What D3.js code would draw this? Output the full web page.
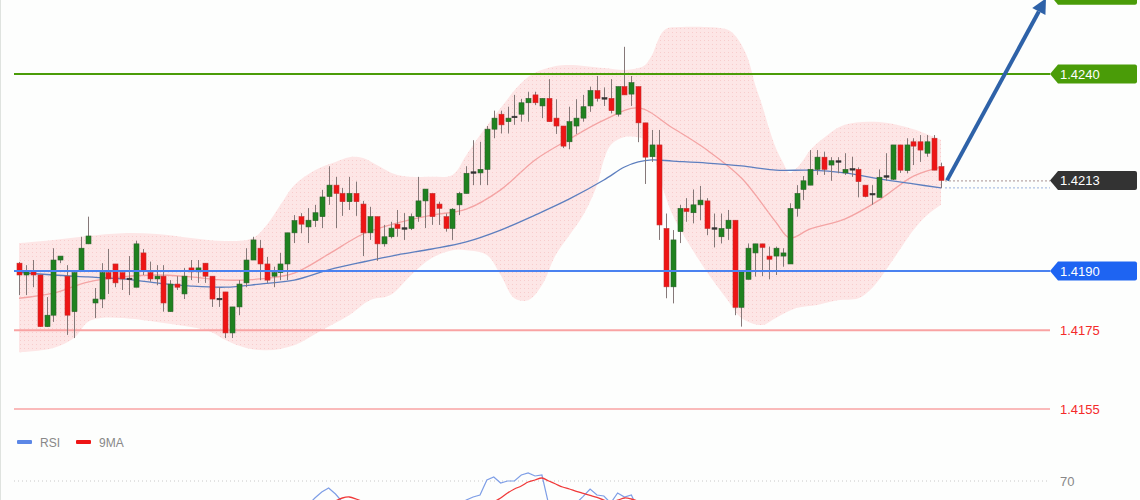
<!DOCTYPE html>
<html><head><meta charset="utf-8">
<script src="https://cdn.jsdelivr.net/npm/d3@7"></script>
<style>html,body{margin:0;padding:0;background:#fdfefd;overflow:hidden}svg{display:block}</style>
</head><body><svg id="c" width="1140" height="500"></svg>
<script>
// ---- candle data (OHLC) ----
const candleOpen = [1.41920,1.41890,1.41898,1.41890,1.41759,1.41788,1.41928,1.41887,1.41797,1.41900,1.41969,1.41819,1.41829,1.41896,1.41918,1.41896,1.41880,1.41859,1.41946,1.41896,1.41880,1.41887,1.41797,1.41867,1.41842,1.41908,1.41898,1.41920,1.41887,1.41829,1.41847,1.41743,1.41809,1.41870,1.41928,1.41958,1.41918,1.41887,1.41896,1.41918,1.41997,1.42038,1.42012,1.42028,1.42038,1.42089,1.42118,1.42097,1.42076,1.42097,1.42070,1.41997,1.42038,1.41969,1.41987,1.42019,1.42008,1.42008,1.42038,1.42078,1.42097,1.42070,1.42038,1.42008,1.42068,1.42097,1.42150,1.42149,1.42158,1.42260,1.42298,1.42279,1.42291,1.42298,1.42327,1.42347,1.42319,1.42338,1.42288,1.42268,1.42228,1.42268,1.42288,1.42319,1.42358,1.42338,1.42338,1.42298,1.42368,1.42349,1.42368,1.42276,1.42190,1.42220,1.42008,1.41860,1.42000,1.42059,1.42048,1.42068,1.42078,1.42008,1.41987,1.42008,1.42029,1.41808,1.41879,1.41946,1.41969,1.41938,1.41938,1.41938,1.41918,1.42059,1.42107,1.42118,1.42158,1.42189,1.42169,1.42178,1.42149,1.42158,1.42158,1.42118,1.42095,1.42087,1.42140,1.42133,1.42220,1.42155,1.42228,1.42228,1.42199,1.42237,1.42165];
const candleHigh = [1.41923,1.41915,1.41928,1.41891,1.41834,1.41958,1.41938,1.41915,1.41897,1.41987,1.42038,1.41857,1.41920,1.41956,1.41918,1.41896,1.41938,1.41977,1.41956,1.41924,1.41915,1.41915,1.41877,1.41887,1.41908,1.41928,1.41928,1.41920,1.41887,1.41859,1.41847,1.41809,1.41877,1.41958,1.41987,1.41979,1.41936,1.41911,1.41946,1.41997,1.42042,1.42047,1.42060,1.42068,1.42106,1.42166,1.42139,1.42111,1.42139,1.42127,1.42078,1.42063,1.42038,1.42017,1.42025,1.42055,1.42047,1.42046,1.42139,1.42108,1.42097,1.42076,1.42046,1.42060,1.42101,1.42166,1.42232,1.42228,1.42268,1.42307,1.42307,1.42317,1.42347,1.42337,1.42355,1.42355,1.42338,1.42387,1.42336,1.42268,1.42317,1.42336,1.42347,1.42368,1.42395,1.42366,1.42387,1.42368,1.42469,1.42395,1.42368,1.42276,1.42258,1.42258,1.42046,1.42004,1.42068,1.42085,1.42107,1.42116,1.42085,1.42046,1.42046,1.42055,1.42029,1.41898,1.41970,1.41969,1.41969,1.41962,1.41962,1.41958,1.42072,1.42118,1.42141,1.42207,1.42207,1.42203,1.42189,1.42189,1.42199,1.42190,1.42163,1.42118,1.42118,1.42158,1.42199,1.42220,1.42220,1.42237,1.42237,1.42245,1.42245,1.42245,1.42175];
const candleLow = [1.41839,1.41839,1.41859,1.41758,1.41758,1.41771,1.41920,1.41738,1.41730,1.41900,1.41969,1.41781,1.41806,1.41842,1.41859,1.41852,1.41839,1.41859,1.41890,1.41873,1.41864,1.41797,1.41797,1.41852,1.41829,1.41877,1.41870,1.41870,1.41809,1.41809,1.41730,1.41730,1.41788,1.41859,1.41928,1.41877,1.41870,1.41859,1.41877,1.41877,1.41971,1.41996,1.41971,1.42012,1.42009,1.42068,1.42009,1.42040,1.42055,1.42040,1.41938,1.41979,1.41926,1.41962,1.41983,1.41987,1.41979,1.42004,1.42025,1.42009,1.42017,1.42017,1.42000,1.41979,1.42042,1.42097,1.42118,1.42118,1.42118,1.42237,1.42249,1.42249,1.42271,1.42279,1.42279,1.42321,1.42288,1.42279,1.42248,1.42212,1.42209,1.42248,1.42279,1.42304,1.42330,1.42319,1.42300,1.42292,1.42347,1.42319,1.42227,1.42121,1.42177,1.41979,1.41831,1.41818,1.41971,1.42025,1.42021,1.42029,1.41991,1.41960,1.41970,1.41979,1.41788,1.41759,1.41879,1.41886,1.41887,1.41879,1.41890,1.41911,1.41918,1.42038,1.42080,1.42118,1.42144,1.42144,1.42129,1.42148,1.42144,1.42139,1.42087,1.42087,1.42068,1.42087,1.42129,1.42131,1.42149,1.42148,1.42169,1.42177,1.42190,1.42156,1.42110];
const candleClose = [1.41890,1.41898,1.41890,1.41759,1.41788,1.41928,1.41938,1.41788,1.41896,1.41958,1.41989,1.41829,1.41896,1.41880,1.41870,1.41880,1.41880,1.41969,1.41900,1.41880,1.41887,1.41819,1.41867,1.41859,1.41887,1.41898,1.41908,1.41887,1.41829,1.41829,1.41743,1.41809,1.41867,1.41928,1.41979,1.41918,1.41877,1.41896,1.41918,1.41997,1.42028,1.42019,1.42029,1.42048,1.42088,1.42118,1.42097,1.42076,1.42097,1.42076,1.41997,1.42038,1.41969,1.41987,1.42009,1.42008,1.42008,1.42038,1.42078,1.42108,1.42038,1.42059,1.42008,1.42057,1.42097,1.42148,1.42150,1.42158,1.42260,1.42288,1.42271,1.42288,1.42291,1.42327,1.42338,1.42327,1.42338,1.42279,1.42268,1.42217,1.42279,1.42288,1.42317,1.42358,1.42338,1.42338,1.42307,1.42368,1.42347,1.42378,1.42276,1.42189,1.42220,1.42017,1.41860,1.41979,1.42059,1.42051,1.42068,1.42080,1.42008,1.42008,1.42008,1.42029,1.41808,1.41898,1.41958,1.41969,1.41960,1.41930,1.41958,1.41946,1.42059,1.42097,1.42129,1.42158,1.42189,1.42158,1.42180,1.42178,1.42158,1.42158,1.42127,1.42089,1.42095,1.42138,1.42140,1.42220,1.42156,1.42220,1.42217,1.42207,1.42228,1.42156,1.42130];

// ---- Bollinger bands & moving average (by candle index) ----
const midIdx = [0,5,10,15,20,25,30,35,40,45,50,55,60,65,70,75,80,85,90,95,100,105,110,112,115,120,125,130,134];
const midVal = [1.41831,1.41844,1.41872,1.41885,1.41890,1.41885,1.41877,1.41880,1.41895,1.41943,1.41994,1.42022,1.42042,1.42057,1.42106,1.42182,1.42235,1.42283,1.42314,1.42263,1.42207,1.42136,1.42024,1.41984,1.42007,1.42032,1.42080,1.42141,1.42164];
const upperIdx = [0,5,10,15,20,25,30,34,36,38,40,43,46,48,50,52,55,60,63,65,67,70,73,75,78,80,85,88,90,91,92,93,94,96,100,103,104,105,106,107,108,109,110,111,112,113,114,115,117,120,125,130,134];
const upperVal = [1.41971,1.41979,1.41989,1.41996,1.41994,1.41984,1.41976,1.41984,1.42017,1.42068,1.42118,1.42156,1.42177,1.42189,1.42187,1.42169,1.42144,1.42139,1.42144,1.42194,1.42245,1.42314,1.42377,1.42403,1.42420,1.42423,1.42415,1.42410,1.42415,1.42423,1.42448,1.42491,1.42514,1.42519,1.42519,1.42512,1.42499,1.42474,1.42436,1.42372,1.42321,1.42263,1.42212,1.42177,1.42149,1.42161,1.42182,1.42207,1.42238,1.42271,1.42278,1.42260,1.42233];
const lowerIdx = [0,5,8,10,12,15,20,25,28,30,33,36,40,44,48,51,54,57,60,63,65,68,70,72,74,76,78,80,82,84,85,86,88,91,92,93,95,97,100,103,105,108,110,113,116,119,122,124,127,130,132,134];
const lowerVal = [1.41694,1.41705,1.41730,1.41771,1.41781,1.41781,1.41771,1.41758,1.41745,1.41725,1.41705,1.41699,1.41712,1.41750,1.41788,1.41826,1.41839,1.41890,1.41933,1.41953,1.41953,1.41941,1.41890,1.41831,1.41826,1.41864,1.41941,1.41991,1.42042,1.42118,1.42182,1.42220,1.42240,1.42233,1.42212,1.42144,1.42042,1.41979,1.41897,1.41826,1.41781,1.41763,1.41781,1.41806,1.41814,1.41826,1.41831,1.41857,1.41928,1.42004,1.42042,1.42068];
const maIdx = [0,5,10,15,20,25,30,35,40,45,50,55,60,65,70,75,80,85,88,90,92,95,100,105,110,115,120,125,130,134];
const maVal = [1.41897,1.41890,1.41885,1.41880,1.41870,1.41862,1.41859,1.41867,1.41877,1.41903,1.41923,1.41941,1.41956,1.41974,1.42004,1.42042,1.42083,1.42131,1.42164,1.42177,1.42182,1.42179,1.42174,1.42167,1.42156,1.42156,1.42149,1.42134,1.42121,1.42111];

// ---- levels ----
const targetLevel = 1.4260;
const resistanceLevel = 1.4240;
const supportLevel = 1.4190;
const lowerLevels = [1.4175, 1.4155];
const lastPrice = 1.4213;

// ---- RSI panel (visible parts only) ----
const rsiIdx = [41,42,43,44,45,46,47,48, 64,65,66,67,68,69,70,71,72,73,74,75,76,77,78, 80,81,82,83,84,85,86,87,88,89,90,91];
const rsiVal = [55,58,61.5,64.5,66.5,63.5,59.5,55, 58,60.5,62,63,70.5,72,69,70,70,73,74,72.5,73,58,55, 55,59,62.3,66,63,62.5,59,64,62,63,55.5,48];
const maRsiIdx = [44,45,46,47,48,49,50,51, 68,69,70,71,72,73,74,75,76,77,78,79,80,81,82,83,84,85,86,87,88,89,90,91];
const maRsiVal = [56,58,60,61.5,62,61,59.5,57, 57.5,59.5,61.5,64,66,67.5,69.5,70.5,71.5,70,68.5,67,66,64.8,63.8,62.8,61.8,60.5,59.6,60.4,61.5,61,59.8,58];
const rsiLevel = 70;
const legendItems = ["RSI", "9MA"];

// ---- drawing ----
const svg = d3.select('#c');
const x = d3.scaleLinear().domain([0, 134]).range([19, 941]);
const y = d3.scaleLinear().domain([1.4155, 1.4240]).range([409, 74]);
const yR = d3.scaleLinear().domain([70, 30]).range([481, 561]);
const FONT = "'Liberation Sans', Arial, sans-serif";

svg.append('rect').attr('width',1140).attr('height',500).attr('fill','#fdfefd');
svg.append('line').attr('x1',0.5).attr('x2',0.5).attr('y1',0).attr('y2',500).attr('stroke','#dfe3df');

const defs = svg.append('defs');
const pat = defs.append('pattern').attr('id','dots').attr('width',4).attr('height',4).attr('patternUnits','userSpaceOnUse');
pat.append('rect').attr('width',4).attr('height',4).attr('fill','#fde6e6');
pat.append('rect').attr('width',1).attr('height',1).attr('fill','#f8cccc');

// band
const upPts = upperIdx.map((d,i)=>[x(d), y(upperVal[i])]);
const loPts = lowerIdx.map((d,i)=>[x(d), y(lowerVal[i])]).reverse();
const lineC = d3.line().curve(d3.curveCatmullRom.alpha(0.5));
svg.append('path').attr('d', lineC(upPts) + 'L' + lineC(loPts).slice(1) + 'Z')
  .attr('fill','url(#dots)');

// mid line & MA
svg.append('path').attr('d', d3.line().curve(d3.curveCatmullRom)(midIdx.map((d,i)=>[x(d), y(midVal[i])])))
  .attr('fill','none').attr('stroke','#f4a4a4').attr('stroke-width',1.3);
svg.append('path').attr('d', d3.line().curve(d3.curveCatmullRom)(maIdx.map((d,i)=>[x(d), y(maVal[i])])))
  .attr('fill','none').attr('stroke','#5d7fbf').attr('stroke-width',1.3);

// horizontal levels
const L0 = 14, L1 = 1050;
function hline(v, color, w){ svg.append('line').attr('x1',L0).attr('x2',L1).attr('y1',y(v)).attr('y2',y(v)).attr('stroke',color).attr('stroke-width',w); }
hline(lowerLevels[0], '#f9a3a3', 2);
hline(lowerLevels[1], '#f9a3a3', 1.3);

// candles
const n = candleOpen.length;
const idx = d3.range(n);
const g = svg.append('g');
g.selectAll('line.w').data(idx).join('line').attr('class','w')
  .attr('x1',i=>Math.round(x(i))+0.5).attr('x2',i=>Math.round(x(i))+0.5)
  .attr('y1',i=>y(candleHigh[i])).attr('y2',i=>y(candleLow[i]))
  .attr('stroke','#857878').attr('stroke-width',1);
g.selectAll('rect.b').data(idx).join('rect').attr('class','b')
  .attr('x',i=>Math.round(x(i))-2)
  .attr('width',5)
  .attr('y',i=>{const t=y(Math.max(candleOpen[i],candleClose[i])); const h=Math.abs(y(candleOpen[i])-y(candleClose[i])); return h<1.5? t-0.75 : t;})
  .attr('height',i=>Math.max(1.5, Math.abs(y(candleOpen[i])-y(candleClose[i]))))
  .attr('fill',i=> candleClose[i]>candleOpen[i] ? '#1f821f' : candleClose[i]<candleOpen[i] ? '#ee1515' : '#333')
  .attr('stroke',i=> candleClose[i]>candleOpen[i] ? '#2d5f2d' : candleClose[i]<candleOpen[i] ? '#c43030' : '#333')
  .attr('stroke-width',0.6);

hline(resistanceLevel, '#4a9c08', 2);
hline(supportLevel, '#4a82f0', 2);

// last price dotted lines
const lx0 = x(n-1)+4;
svg.append('line').attr('x1',lx0).attr('x2',L1).attr('y1',y(lastPrice)+0.5).attr('y2',y(lastPrice)+0.5)
  .attr('stroke','#a89090').attr('stroke-dasharray','2,2');
svg.append('line').attr('x1',lx0).attr('x2',L1).attr('y1',y(maVal[maVal.length-1])).attr('y2',y(maVal[maVal.length-1]))
  .attr('stroke','#9ab0dc').attr('stroke-dasharray','2,2');

// labels
function tag(v, fill, showText){
  const cy = y(v), h = 9.5;
  svg.append('path').attr('d',`M1050,${cy} L1058,${cy-h} L1135,${cy-h} Q1137,${cy-h} 1137,${cy-h+2} L1137,${cy+h-2} Q1137,${cy+h} 1135,${cy+h} L1058,${cy+h} Z`).attr('fill',fill);
  if (showText) svg.append('text').attr('x',1060).attr('y',cy+4.5).attr('fill','#fff').attr('font-family',FONT).attr('font-size',13).text(v.toFixed(4));
}
tag(targetLevel, '#4a9c08', false);
tag(resistanceLevel, '#4a9c08', true);
tag(lastPrice, '#333333', true);
tag(supportLevel, '#1e64f2', true);
lowerLevels.forEach(v=>{
  svg.append('text').attr('x',1060).attr('y',y(v)+4.5).attr('fill','#f42a2a').attr('font-family',FONT).attr('font-size',13).text(v.toFixed(4));
});

// arrow
const ax0 = x(n-1)+6, ay0 = y(lastPrice);
const ax1 = 1046, ay1 = y(1.42592);
const ang = Math.atan2(ay1-ay0, ax1-ax0);
const hl = 15, hw = 7.5;
const bx = ax1 - hl*Math.cos(ang), by = ay1 - hl*Math.sin(ang);
svg.append('line').attr('x1',ax0).attr('y1',ay0).attr('x2',bx).attr('y2',by).attr('stroke','#2e62a8').attr('stroke-width',4);
svg.append('path').attr('d',`M${ax1},${ay1} L${bx+hw*Math.sin(ang)},${by-hw*Math.cos(ang)} L${bx-hw*Math.sin(ang)},${by+hw*Math.cos(ang)} Z`).attr('fill','#2e62a8');

// legend
const legColors = ['#5b87e6','#ee1515'];
const legX = [17, 76];
legendItems.forEach((t,i)=>{
  svg.append('rect').attr('x',legX[i]).attr('y',440).attr('width',15).attr('height',4).attr('fill',legColors[i]).attr('rx',1);
  svg.append('text').attr('x',legX[i]+23).attr('y',446.5).attr('fill','#888').attr('font-family',FONT).attr('font-size',12).text(t);
});

// RSI panel
svg.append('line').attr('x1',L0).attr('x2',1048).attr('y1',yR(rsiLevel)).attr('y2',yR(rsiLevel))
  .attr('stroke','#c8c8c8').attr('stroke-dasharray','1,3');
svg.append('text').attr('x',1060).attr('y',yR(rsiLevel)+4.5).attr('fill','#888').attr('font-family',FONT).attr('font-size',13).text(String(rsiLevel));
function segs(ix, vals){
  const out=[]; let cur=[];
  ix.forEach((d,i)=>{ if(cur.length && d!==ix[i-1]+1){out.push(cur);cur=[];} cur.push([x(d), yR(vals[i])]); });
  if(cur.length) out.push(cur);
  return out;
}
segs(rsiIdx, rsiVal).forEach(s=> svg.append('path').attr('d', d3.line()(s)).attr('fill','none').attr('stroke','#7e9ee6').attr('stroke-width',1.2));
segs(maRsiIdx, maRsiVal).forEach(s=> svg.append('path').attr('d', d3.line().curve(d3.curveCatmullRom)(s)).attr('fill','none').attr('stroke','#f03a3a').attr('stroke-width',1.3));
</script></body></html>
